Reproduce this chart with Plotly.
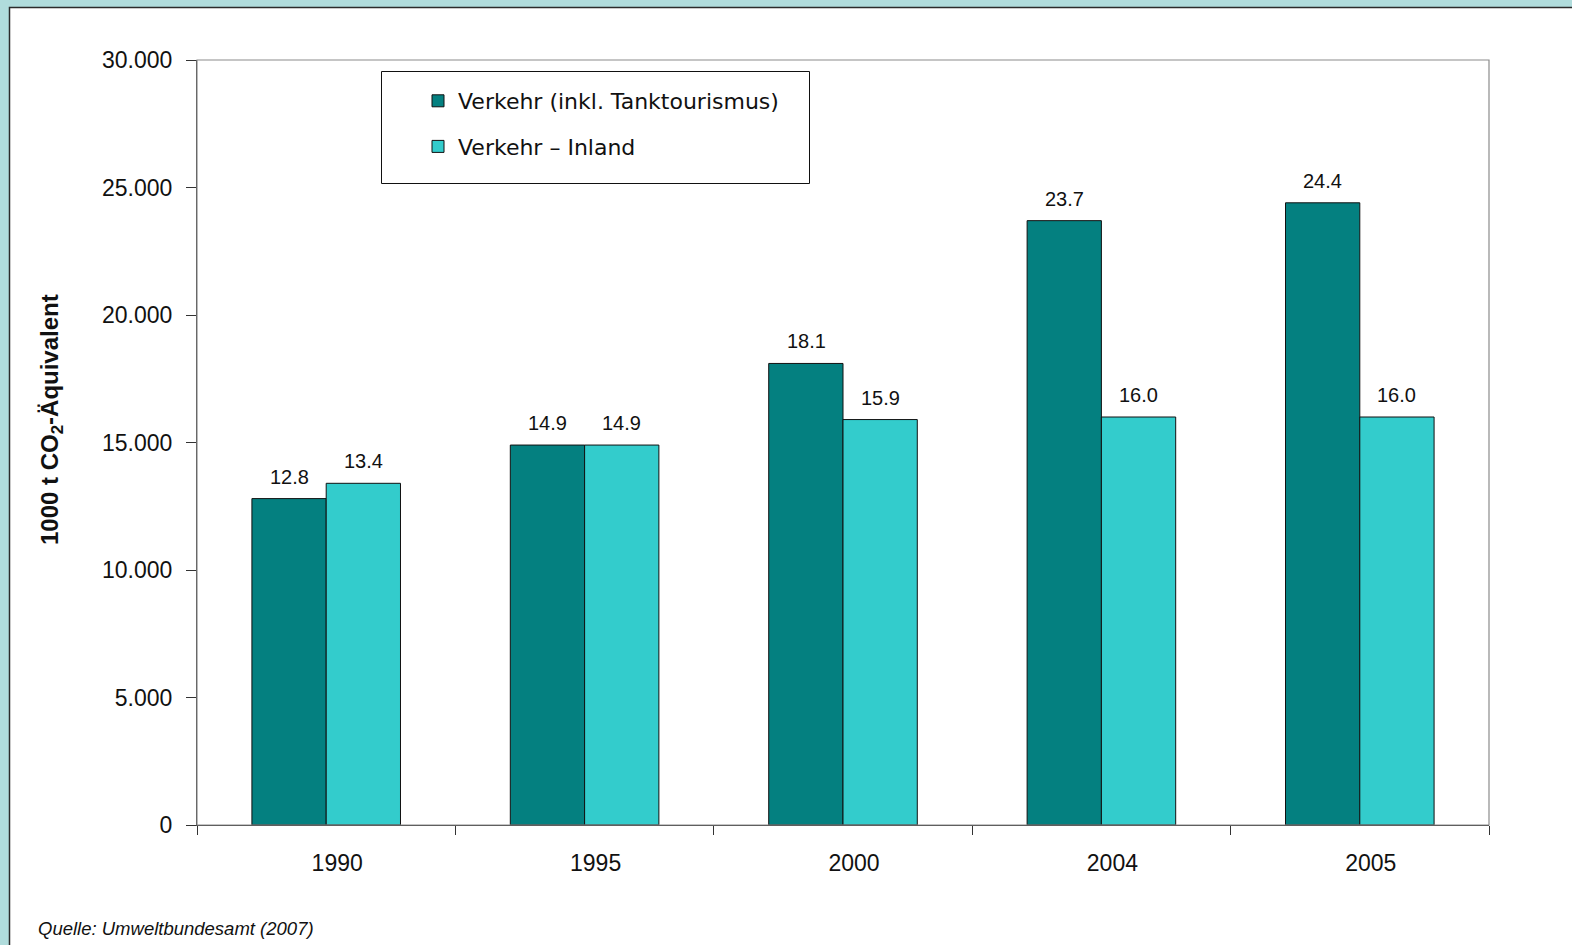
import plotly.graph_objects as go

years = ["1990", "1995", "2000", "2004", "2005"]
verkehr_total = [12800, 14900, 18100, 23700, 24400]
verkehr_inland = [13400, 14900, 15900, 16000, 16000]
series_names = ["Verkehr (inkl. Tanktourismus)", "Verkehr – Inland"]
y_ticks = [0, 5000, 10000, 15000, 20000, 25000, 30000]

W, H = 1572, 945
L, R, T, B = 197, 83, 60, 120
PW, PH = W - L - R, H - T - B

def px_x(x):
    return (x - L) / PW

def px_y(y):
    return (H - B - y) / PH

FONT = "Liberation Sans, Arial"
fig = go.Figure()
annotations = []
series = [(verkehr_total, series_names[0], "#048080", -37),
          (verkehr_inland, series_names[1], "#33CCCC", 37)]
for vals, name, col, xs in series:
    fig.add_trace(go.Bar(
        x=years, y=vals, name=name,
        marker=dict(color=col, line=dict(color="#111111", width=1)),
        legendgroup=name,
    ))
    for i, v in enumerate(vals):
        annotations.append(dict(
            x=i, y=v, xref="x", yref="y", text=f"{v/1000:.1f}",
            showarrow=False, xanchor="center", yanchor="bottom",
            xshift=xs, yshift=9,
            font=dict(family=FONT, size=20, color="#111111")))

shapes = [
    dict(type="rect", xref="paper", yref="paper",
         x0=px_x(9.5), x1=px_x(1600), y0=px_y(7.5), y1=px_y(980),
         fillcolor="white", line=dict(color="#2b2b2b", width=1.5), layer="below"),
    dict(type="rect", xref="paper", yref="paper", x0=0, x1=1, y0=0, y1=1,
         line=dict(color="#8c8c8c", width=1.2), layer="above"),
    dict(type="rect", xref="paper", yref="paper",
         x0=px_x(381.5), x1=px_x(809.5), y0=px_y(183.5), y1=px_y(71.5),
         fillcolor="white", line=dict(color="#111111", width=1), layer="above"),
]

annotations += [
    dict(text="1000 t CO<sub>2</sub>-Äquivalent", textangle=-90,
         xref="paper", yref="paper", x=px_x(51), y=px_y(420),
         xanchor="center", yanchor="middle", showarrow=False,
         font=dict(family=FONT, size=24, color="#111111", weight="bold")),
    dict(text="<i>Quelle: Umweltbundesamt (2007)</i>",
         xref="paper", yref="paper", x=px_x(36), y=px_y(928),
         xanchor="left", yanchor="middle", showarrow=False,
         font=dict(family=FONT, size=18.5, color="#111111")),
]

fig.update_layout(
    width=W, height=H,
    margin=dict(l=L, r=R, t=T, b=B, pad=0),
    paper_bgcolor="#B0DCDC",
    plot_bgcolor="white",
    barmode="group",
    bargap=0.425, bargroupgap=0,
    separators=",.",
    shapes=shapes,
    annotations=annotations,
    showlegend=True,
    legend=dict(x=px_x(418), y=px_y(80), xanchor="left", yanchor="top",
                bgcolor="rgba(0,0,0,0)", borderwidth=0,
                traceorder="grouped", tracegroupgap=14,
                font=dict(family="DejaVu Sans, Verdana", size=22, color="#111111")),
    xaxis=dict(
        type="category", showgrid=False, showline=True,
        linecolor="#333333", linewidth=1.2,
        ticks="outside", tickson="boundaries", ticklen=9,
        tickcolor="#333333", tickwidth=1.2,
        tickfont=dict(family=FONT, size=23, color="#111111"),
        ticklabelstandoff=17, ticklabelshift=11, tickangle=0,
    ),
    yaxis=dict(
        range=[0, 30000], tickvals=y_ticks, tickformat=",d",
        showgrid=False, showline=True, zeroline=False,
        linecolor="#333333", linewidth=1.2,
        ticks="outside", ticklen=10, tickcolor="#333333", tickwidth=1.2,
        tickfont=dict(family=FONT, size=23, color="#111111"),
        ticklabelstandoff=9,
    ),
    font=dict(family=FONT),
)

fig.write_html("out.html", config={"displayModeBar": False},
               post_script="document.body.style.margin='0';")
